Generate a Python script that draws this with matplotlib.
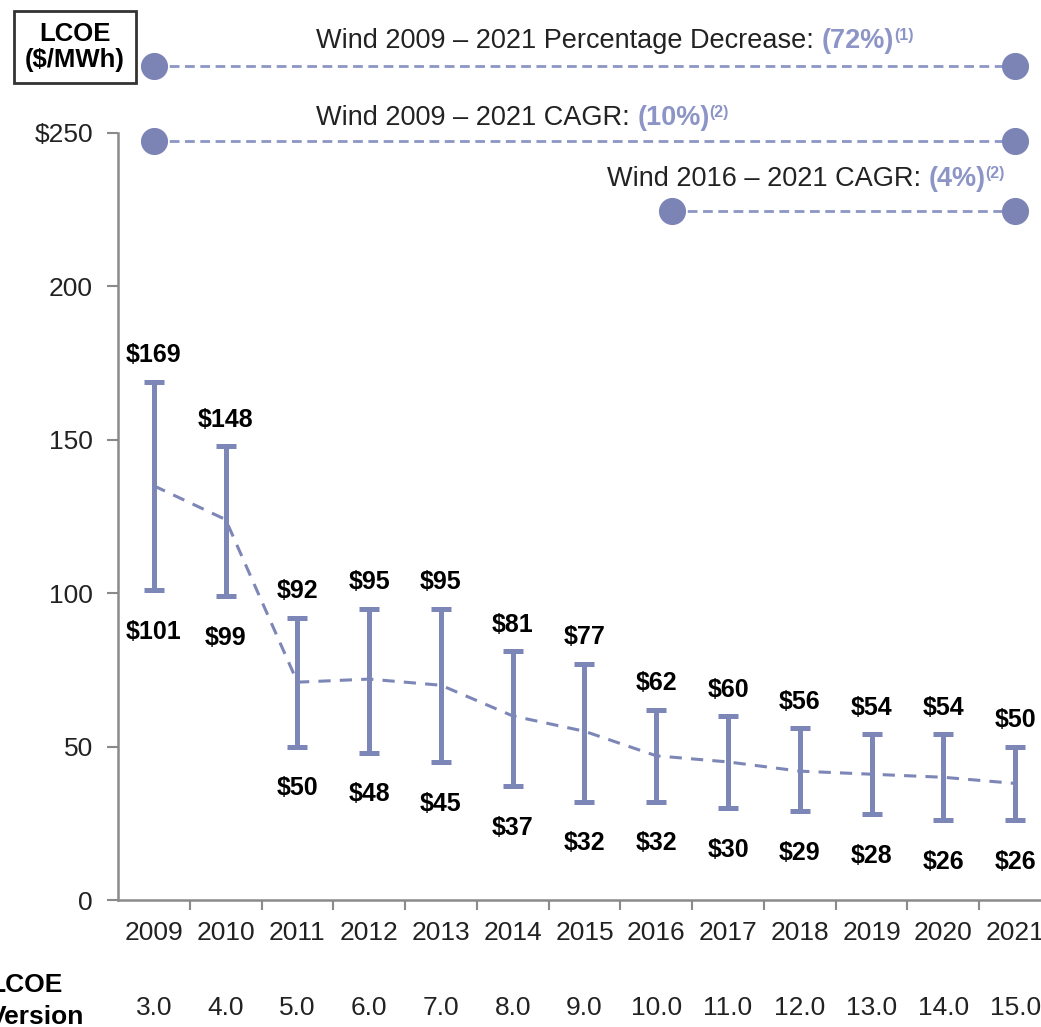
import matplotlib.pyplot as plt
import matplotlib.transforms as mtransforms

plt.rcParams['font.family'] = ['Liberation Sans', 'DejaVu Sans']

# data
years = ['2009', '2010', '2011', '2012', '2013', '2014', '2015',
         '2016', '2017', '2018', '2019', '2020', '2021']
versions = ['3.0', '4.0', '5.0', '6.0', '7.0', '8.0', '9.0',
            '10.0', '11.0', '12.0', '13.0', '14.0', '15.0']
high = [169, 148, 92, 95, 95, 81, 77, 62, 60, 56, 54, 54, 50]
low = [101, 99, 50, 48, 45, 37, 32, 32, 30, 29, 28, 26, 26]
mid = [135, 124, 71, 72, 70, 60, 55, 47, 45, 42, 41, 40, 38]

bar_col = '#7D87B7'
dot_col = '#7B84B4'
pct_col = '#8C95C6'
axis_col = '#8A8A8A'

fig = plt.figure(figsize=(10.41, 10.27), dpi=100)
ax = fig.add_axes([118 / 1041, 127 / 1027, 933 / 1041, 767 / 1027])

x = list(range(len(years)))

# range bars
ax.errorbar(x, mid, yerr=[[m - l for m, l in zip(mid, low)],
                          [h - m for h, m in zip(high, mid)]],
            fmt='none', ecolor=bar_col, elinewidth=3.6, capsize=7.5, capthick=3.6)
# midpoint line
ax.plot(x, mid, color=bar_col, lw=2.2, ls=(0, (4, 3)))

for i in x:
    ax.annotate('$' + str(high[i]), (i, high[i]), xytext=(0, 19), textcoords='offset points',
                ha='center', va='center', fontsize=18, fontweight='bold')
    ax.annotate('$' + str(low[i]), (i, low[i]), xytext=(0, -30), textcoords='offset points',
                ha='center', va='center', fontsize=18, fontweight='bold')

ax.set_xlim(-0.5, 12.5)
ax.set_ylim(0, 250)
ax.set_yticks([0, 50, 100, 150, 200, 250])
ax.set_yticklabels(['0', '50', '100', '150', '200', '$250'])
ax.set_xticks(x)
ax.set_xticklabels(years)
ax.set_xticks([i + 0.5 for i in x[:-1]], minor=True)
ax.tick_params(axis='x', which='major', length=0, pad=15, labelsize=19, colors='#222222')
ax.tick_params(axis='x', which='minor', length=7, width=1.5, color=axis_col)
ax.tick_params(axis='y', length=8, width=1.5, color=axis_col, labelsize=19,
               labelcolor='#222222', pad=10)
for s in ['top', 'right']:
    ax.spines[s].set_visible(False)
for s in ['left', 'bottom']:
    ax.spines[s].set_color(axis_col)
    ax.spines[s].set_linewidth(1.8)

# version row
trans = mtransforms.blended_transform_factory(ax.transData, fig.transFigure)
for i in x:
    ax.text(i, 1 - 1008 / 1027, versions[i], transform=trans, ha='center', va='center',
            fontsize=19, color='#222222')
fig.text(-11 / 1041, 1 - 985 / 1027, 'LCOE', ha='left', va='center', fontsize=19, fontweight='bold')
fig.text(-11 / 1041, 1 - 1017 / 1027, 'Version', ha='left', va='center', fontsize=19, fontweight='bold')

# header box
fig.text(75 / 1041, 1 - 47 / 1027, 'LCOE\n($/MWh)', ha='center', va='center', fontsize=18.5,
         fontweight='bold', linespacing=1.1,
         bbox=dict(boxstyle='square,pad=0.42', fc='white', ec='#333333', lw=2))

# comparison rows
rows = [
    (0, 12, 272, 2.26, 280, 'Wind 2009 – 2021 Percentage Decrease: ', '(72%)', '(1)'),
    (0, 12, 247.5, 2.26, 255, 'Wind 2009 – 2021 CAGR: ', '(10%)', '(2)'),
    (7.22, 12, 224.5, 6.31, 235, 'Wind 2016 – 2021 CAGR: ', '(4%)', '(2)'),
]
for x0, x1, yy, tx, ty, label, pct, note in rows:
    ax.plot([x0, x1], [yy, yy], color=pct_col, lw=2, ls=(0, (3.5, 2)), clip_on=False)
    ax.plot([x0, x1], [yy, yy], 'o', color=dot_col, ms=18.5, clip_on=False)
    t1 = ax.text(tx, ty, label, ha='left', va='center', fontsize=19.5, color='#222222')
    t2 = ax.annotate(pct, xy=(1, 0), xycoords=t1, ha='left', va='bottom',
                     fontsize=19.5, fontweight='bold', color=pct_col)
    ax.annotate(note, xy=(1, 1), xycoords=t2, ha='left', va='top',
                fontsize=11.5, fontweight='bold', color=pct_col)

fig.savefig('out.png', dpi=100)
